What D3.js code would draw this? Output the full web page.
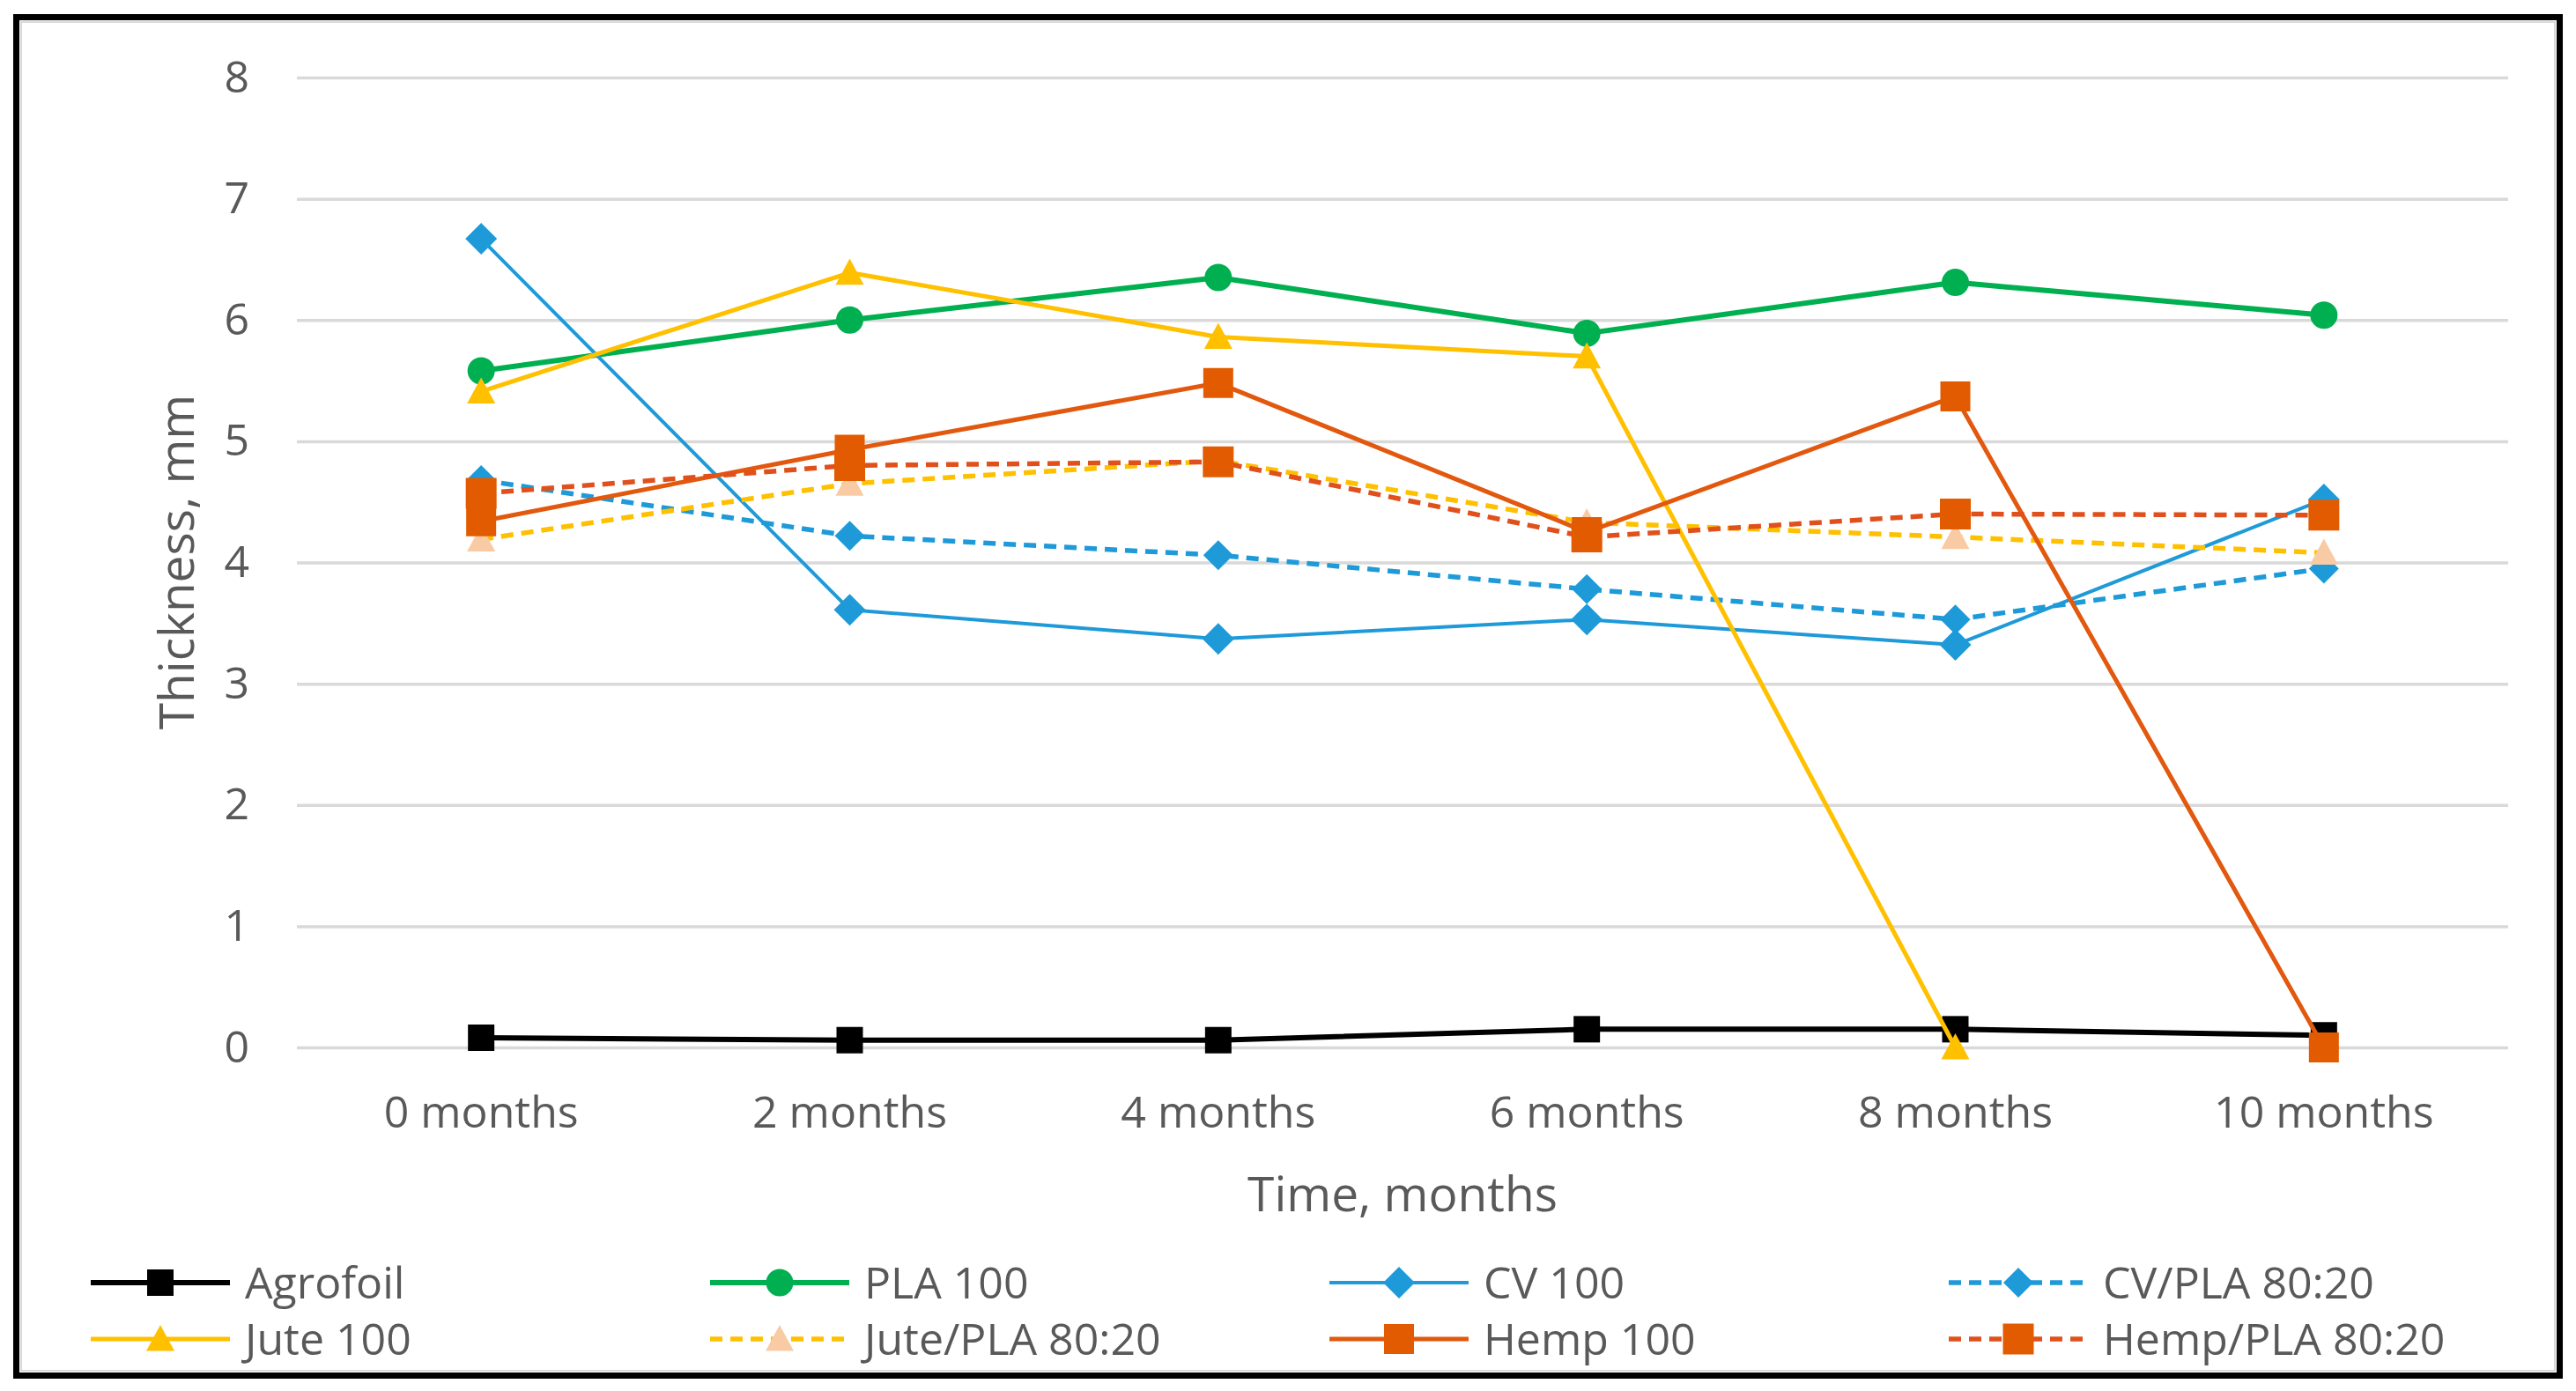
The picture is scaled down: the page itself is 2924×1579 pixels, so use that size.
<!DOCTYPE html>
<style>
body { margin: 0; background-color: #FFFFFF; }
text { font-family: "Open Sans", sans-serif; fill: #595959; }
</style>
<svg width="2924" height="1579"></svg>
<script src="https://d3js.org/d3.v7.min.js"></script>
<script>

var categories = ["0 months", "2 months", "4 months", "6 months", "8 months", "10 months"];
var yTicks = [0, 1, 2, 3, 4, 5, 6, 7, 8];

var agrofoil = [0.08, 0.06, 0.06, 0.15, 0.15, 0.10];
var pla100   = [5.58, 6.00, 6.35, 5.89, 6.31, 6.04];
var cv100    = [6.67, 3.61, 3.37, 3.53, 3.32, 4.52];
var cvPla    = [4.68, 4.22, 4.06, 3.78, 3.53, 3.95];
var jute100  = [5.41, 6.39, 5.86, 5.70, 0.00, null];
var jutePla  = [4.19, 4.65, 4.84, 4.33, 4.21, 4.08];
var hemp100  = [4.34, 4.93, 5.48, 4.25, 5.37, 0.00];
var hempPla  = [4.57, 4.80, 4.83, 4.21, 4.40, 4.39];

var series = [
  {name: "Agrofoil",        values: agrofoil, color: "#000000", marker: "#000000", shape: "square",   size: 30, width: 6,   dash: null},
  {name: "PLA 100",         values: pla100,   color: "#00B050", marker: "#00B050", shape: "circle",   size: 31, width: 6,   dash: null},
  {name: "CV 100",          values: cv100,    color: "#1E9AD9", marker: "#1E9AD9", shape: "diamond",  size: 36, width: 4,   dash: null},
  {name: "CV/PLA 80:20",    values: cvPla,    color: "#1E9AD9", marker: "#1E9AD9", shape: "diamond",  size: 34, width: 5.5, dash: "14,9"},
  {name: "Jute 100",        values: jute100,  color: "#FFC000", marker: "#FFC000", shape: "triangle", size: 32, width: 5,   dash: null},
  {name: "Jute/PLA 80:20",  values: jutePla,  color: "#FFC000", marker: "#F9CBA4", shape: "triangle", size: 32, width: 5.5, dash: "14,9"},
  {name: "Hemp 100",        values: hemp100,  color: "#E2580E", marker: "#E35B00", shape: "square",   size: 34, width: 5,   dash: null},
  {name: "Hemp/PLA 80:20",  values: hempPla,  color: "#E0501C", marker: "#E35B00", shape: "square",   size: 35, width: 5.5, dash: "14,9"}
];

var svg = d3.select("svg");

svg.append("rect")
    .attr("x", 18.5).attr("y", 19.5)
    .attr("width", 2887).attr("height", 1542)
    .attr("fill", "#FFFFFF")
    .attr("stroke", "#000000")
    .attr("stroke-width", 7);

svg.append("rect")
    .attr("x", 24).attr("y", 25)
    .attr("width", 2876).attr("height", 1531)
    .attr("fill", "none")
    .attr("stroke", "#D9D9D9")
    .attr("stroke-width", 2);

var x = d3.scaleBand()
    .domain(categories)
    .range([337, 2847]);

var y = d3.scaleLinear()
    .domain([0, 8])
    .range([1189, 88]);

function cx(i) { return x(categories[i]) + x.bandwidth() / 2; }

// gridlines + y labels
var yAxis = svg.append("g")
    .attr("transform", "translate(337,0)")
    .call(d3.axisLeft(y).tickValues(yTicks).tickSize(-2510).tickPadding(54).tickFormat(d3.format("d")));
yAxis.select(".domain").remove();
yAxis.selectAll("line").attr("stroke", "#D9D9D9").attr("stroke-width", 3.5);
yAxis.selectAll("text")
    .attr("font-family", "Open Sans")
    .attr("font-size", 50)
    .attr("fill", "#595959");

var xAxis = svg.append("g")
    .attr("transform", "translate(0,1189)")
    .call(d3.axisBottom(x).tickSize(0).tickPadding(55));
xAxis.select(".domain").remove();
xAxis.selectAll("text")
    .attr("font-family", "Open Sans")
    .attr("font-size", 50)
    .attr("fill", "#595959");

svg.append("text")
    .attr("x", 1592)
    .attr("y", 1356)
    .attr("dy", "0.35em")
    .attr("text-anchor", "middle")
    .attr("font-size", 55)
    .text("Time, months");

svg.append("text")
    .attr("transform", "translate(201,638) rotate(-90)")
    .attr("dy", "0.35em")
    .attr("text-anchor", "middle")
    .attr("font-size", 55)
    .text("Thickness, mm");

function markerPath(shape, s) {
  var h = s / 2;
  if (shape === "square") return "M" + (-h) + "," + (-h) + "h" + s + "v" + s + "h" + (-s) + "Z";
  if (shape === "diamond") return "M0," + (-h) + "L" + h + ",0L0," + h + "L" + (-h) + ",0Z";
  if (shape === "triangle") return "M0," + (-h) + "L" + h + "," + (h * 0.85) + "L" + (-h) + "," + (h * 0.85) + "Z";
  return d3.arc()({innerRadius: 0, outerRadius: h, startAngle: 0, endAngle: 2 * Math.PI});
}

var line = d3.line()
    .defined(function(d) { return d != null; })
    .x(function(d, i) { return cx(i); })
    .y(function(d) { return y(d); });

series.forEach(function(s) {
  var g = svg.append("g");
  g.append("path")
      .attr("d", line(s.values))
      .attr("fill", "none")
      .attr("stroke", s.color)
      .attr("stroke-width", s.width)
      .attr("stroke-dasharray", s.dash)
      .attr("stroke-linejoin", "round");
  g.selectAll(".m")
    .data(s.values.map(function(v, i) { return {v: v, i: i}; }).filter(function(d) { return d.v != null; }))
    .enter().append("path")
      .attr("transform", function(d) { return "translate(" + cx(d.i) + "," + y(d.v) + ")"; })
      .attr("d", markerPath(s.shape, s.size))
      .attr("fill", s.marker);
});

// legend
var legend = svg.append("g")
  .selectAll("g")
  .data(series)
  .enter().append("g")
    .attr("transform", function(d, i) { return "translate(" + (103 + (i % 4) * 703) + "," + (i < 4 ? 1456 : 1520) + ")"; });

legend.append("line")
    .attr("x1", 0).attr("x2", 158)
    .attr("stroke", function(d) { return d.color; })
    .attr("stroke-width", function(d) { return d.width; })
    .attr("stroke-dasharray", function(d) { return d.dash; });

legend.append("path")
    .attr("transform", "translate(79,0)")
    .attr("d", function(d) { return markerPath(d.shape, d.size); })
    .attr("fill", function(d) { return d.marker; });

legend.append("text")
    .attr("x", 175)
    .attr("dy", "0.35em")
    .attr("font-size", 50)
    .text(function(d) { return d.name; });

</script>
